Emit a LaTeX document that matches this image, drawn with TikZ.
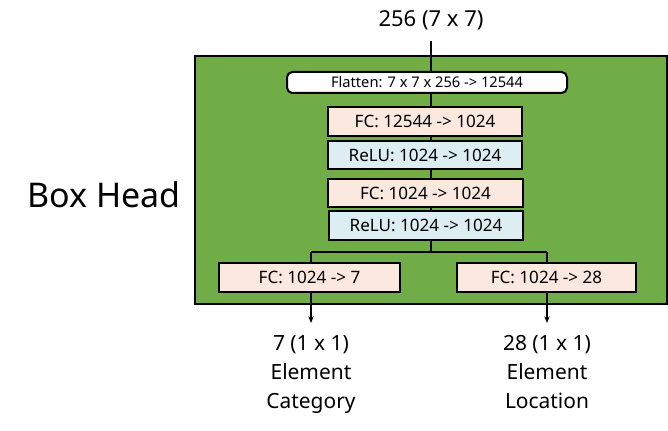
\documentclass[tikz,border=0pt]{standalone}
\usepackage{fontspec}
\setmainfont{Noto Sans}
\usetikzlibrary{arrows.meta,calc}
\definecolor{boxgreen}{HTML}{70AD47}
\definecolor{fcfill}{HTML}{FBE9DF}
\definecolor{relufill}{HTML}{DCEEF2}
\tikzset{
  layer/.style={draw=black, line width=1.5pt, inner sep=0pt, text=black, font=\fontsize{12.8}{14}\selectfont},
  fcbox/.style={layer, fill=fcfill},
  relubox/.style={layer, fill=relufill},
  conn/.style={draw=black, line width=1.1pt},
  lbl/.style={align=center, font=\fontsize{15.7}{21.8}\selectfont, inner sep=0pt}
}
\begin{document}
\begin{tikzpicture}[x=0.75pt,y=-0.75pt]
\useasboundingbox (0,0) rectangle (668,431);
% green container
\node[draw=black, line width=1.5pt, fill=boxgreen, inner sep=0pt, anchor=north west, minimum width=354pt, minimum height=186pt] (green) at (194,55) {};
% top label
\node[lbl, font=\fontsize{16.5}{20}\selectfont] (inp) at (431,20) {256 (7 x 7)};
\coordinate (inend) at (431,41);
% Box Head
\node[inner sep=0pt, font=\fontsize{25.5}{30}\selectfont] (bh) at (104,195) {Box Head};
% layers
\node[layer, fill=white, rounded corners=4pt, minimum width=210pt, minimum height=15.75pt, font=\fontsize{11}{12}\selectfont] (flat) at (427,82.5) {Flatten: 7 x 7 x 256 -> 12544};
\node[fcbox, minimum width=145.5pt, minimum height=21.75pt] (fc1) at (425,121.5) {FC: 12544 -> 1024};
\node[relubox, minimum width=145.5pt, minimum height=21pt] (relu1) at (425,155) {ReLU: 1024 -> 1024};
\node[fcbox, minimum width=146.25pt, minimum height=21pt] (fc2) at (425.5,193) {FC: 1024 -> 1024};
\node[relubox, minimum width=145.5pt, minimum height=21.75pt] (relu2) at (426,225.5) {ReLU: 1024 -> 1024};
\node[fcbox, minimum width=135.75pt, minimum height=21.75pt] (fc7) at (309.5,277.5) {FC: 1024 -> 7};
\node[fcbox, minimum width=134.25pt, minimum height=21.75pt] (fc28) at (546.5,277.5) {FC: 1024 -> 28};
% trunk coordinates
\coordinate (split) at (431,252);
\coordinate (lsplit) at (311,252);
\coordinate (rsplit) at (547,252);
\coordinate (lout) at (311,323);
\coordinate (rout) at (547,323);
% connectors
\draw[conn] (inend) -- (inend |- flat.north);
\draw[conn] (flat.south -| inend) -- (fc1.north -| inend);
\draw[conn] (fc1.south -| inend) -- (relu1.north -| inend);
\draw[conn] (relu1.south -| inend) -- (fc2.north -| inend);
\draw[conn] (fc2.south -| inend) -- (relu2.north -| inend);
\draw[conn] (relu2.south -| inend) -- (split);
\draw[conn] (lsplit) -- (rsplit);
\draw[conn] (lsplit) -- (fc7.north -| lsplit);
\draw[conn] (rsplit) -- (fc28.north -| rsplit);
\draw[conn, -{Stealth[length=5pt,width=4pt]}] (fc7.south -| lsplit) -- (lout);
\draw[conn, -{Stealth[length=5pt,width=4pt]}] (fc28.south -| rsplit) -- (rout);
% output labels
\node[lbl, anchor=north] (o1) at (311,335) {7 (1 x 1)\\Element\\Category};
\node[lbl, anchor=north] (o2) at (547,335) {28 (1 x 1)\\Element\\Location};
\end{tikzpicture}
\end{document}
